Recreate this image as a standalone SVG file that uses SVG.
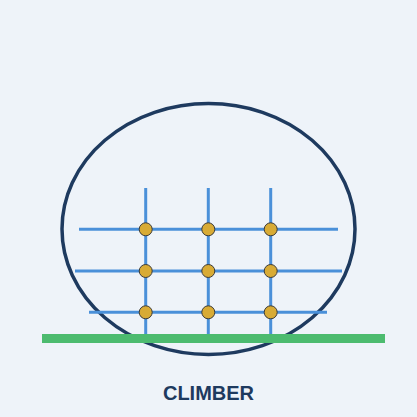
<svg xmlns="http://www.w3.org/2000/svg" width="417" height="417" viewBox="0 0 417 417">
<style>
.grid{stroke:#4a90d9;stroke-width:3;fill:none}
.hold{fill:#d8ab35;stroke:#3b3b3b;stroke-width:1}
.label{font-family:"Liberation Sans",Arial,sans-serif;font-weight:bold;font-size:20px;fill:#1e3a5f}
</style>
<rect width="417" height="417" fill="#eef3f9"/>
<g id="boundary"><ellipse cx="208.5" cy="229" rx="146.5" ry="125.5" fill="none" stroke="#1e3a5f" stroke-width="3.5"/></g>
<g id="connectors">
<line class="grid" x1="145.7" y1="188" x2="145.7" y2="336"/>
<line class="grid" x1="208.3" y1="188" x2="208.3" y2="336"/>
<line class="grid" x1="270.7" y1="188" x2="270.7" y2="336"/>
<line class="grid" x1="79" y1="229.3" x2="338" y2="229.3"/>
<line class="grid" x1="75" y1="271" x2="342" y2="271"/>
<line class="grid" x1="89" y1="312.3" x2="327" y2="312.3"/>
</g>
<g id="ground"><rect x="42" y="334" width="343" height="9" fill="#4cbb6f"/></g>
<g id="holds">
<circle class="hold" cx="145.7" cy="229.3" r="6.5"/>
<circle class="hold" cx="208.3" cy="229.3" r="6.5"/>
<circle class="hold" cx="270.7" cy="229.3" r="6.5"/>
<circle class="hold" cx="145.7" cy="271" r="6.5"/>
<circle class="hold" cx="208.3" cy="271" r="6.5"/>
<circle class="hold" cx="270.7" cy="271" r="6.5"/>
<circle class="hold" cx="145.7" cy="312.3" r="6.5"/>
<circle class="hold" cx="208.3" cy="312.3" r="6.5"/>
<circle class="hold" cx="270.7" cy="312.3" r="6.5"/>
</g>
<g id="title"><text class="label" x="208.5" y="400" text-anchor="middle">CLIMBER</text></g>
</svg>
